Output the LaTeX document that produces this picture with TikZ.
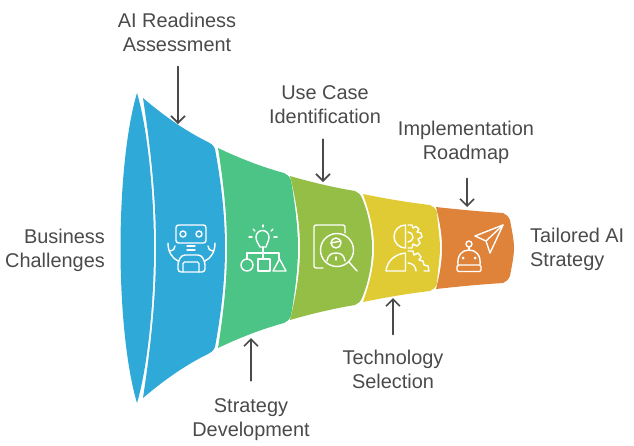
\documentclass[tikz,border=0pt]{standalone}
\usepackage{fontspec}
\setmainfont{Liberation Sans}
\usetikzlibrary{arrows.meta}
\definecolor{segblue}{HTML}{2FA9D8}
\definecolor{seggreen}{HTML}{4CC485}
\definecolor{segolive}{HTML}{95BE47}
\definecolor{segyellow}{HTML}{E1CB35}
\definecolor{segorange}{HTML}{DF833A}
\definecolor{inkgrey}{HTML}{4A4A4A}
\tikzset{
  steplabel/.style={text=inkgrey, inner sep=0pt, align=center, font=\fontsize{19.9}{24}\selectfont},
  flowarrow/.style={draw=inkgrey, line width=1.6pt, ->, shorten <=15pt},
  iconline/.style={draw=white, line width=1.4pt}
}
% colour, left x, left half height, left bulge x, right x, right half height, right bulge x
\newcommand{\funnelseg}[7]{
\fill[#1] (#2,{248-#3})
  .. controls ({#2+(#5-#2)/3},{248-#3+(#3-#6)*0.42}) and ({#2+2*(#5-#2)/3},{248-#3+(#3-#6)*0.76}) .. (#5,{248-#6})
  .. controls ({#5+3},{248-#6+1}) and ({#5+5.5},{248-#6+3.5}) .. ({#5+7},{248-#6+7})
  .. controls ({#7-2.5},{248-#6*0.55}) and (#7,{248-#6*0.25}) .. (#7,248)
  .. controls (#7,{248+#6*0.25}) and ({#7-2.5},{248+#6*0.55}) .. ({#5+7},{248+#6-7})
  .. controls ({#5+5.5},{248+#6-3.5}) and ({#5+3},{248+#6-1}) .. (#5,{248+#6})
  .. controls ({#2+2*(#5-#2)/3},{248+#3-(#3-#6)*0.76}) and ({#2+(#5-#2)/3},{248+#3-(#3-#6)*0.42}) .. (#2,{248+#3})
  .. controls ({#2+0.7*(#4-#2)},{248+0.6*#3}) and (#4,{248+0.3*#3}) .. (#4,248)
  .. controls (#4,{248-0.3*#3}) and ({#2+0.7*(#4-#2)},{248-0.6*#3}) .. cycle;
}
\begin{document}
\begin{tikzpicture}[x=1pt, y=-1pt, line join=round, line cap=round, >={Straight Barb[length=7pt,width=14pt]}]
\useasboundingbox (0,0) rectangle (634,445);
% funnel
\funnelseg{segblue}{143}{150}{156}{208}{106}{225}
\funnelseg{seggreen}{218}{100}{227}{284}{75}{298}
\funnelseg{segolive}{290}{72}{300}{355}{57}{372}
\funnelseg{segyellow}{363}{54}{374}{430}{43}{440}
\funnelseg{segorange}{436}{41}{442}{503}{35}{514}
\fill[segblue] (137,93) .. controls (126,130) and (120.5,190) .. (120.5,248)
  .. controls (120.5,306) and (126,366) .. (137,403)
  .. controls (148,366) and (154,300) .. (154,248)
  .. controls (154,196) and (148,130) .. cycle;
% robot
\draw[iconline, rounded corners=2.5pt] (176,225) rectangle (206,243);
\draw[iconline] (183,234) circle (3);
\draw[iconline] (199,234) circle (3);
\draw[iconline] (187,246)--(195,246);
\draw[iconline] (187,250)--(195,250);
\draw[iconline, rounded corners=3pt] (178,272)--(178,262)--(182,255)--(201,255)--(205,262)--(205,272)--cycle;
\draw[iconline, rounded corners=1.5pt] (183,272)--(183,262)--(199,262)--(199,272);
\draw[iconline] (178,261) .. controls (172,258) and (168,252) .. (168,243);
\draw[iconline] (170,251) .. controls (173,251) and (175,249) .. (175,246);
\draw[iconline] (205,261) .. controls (211,258) and (215,252) .. (215,243);
\draw[iconline] (213,251) .. controls (210,251) and (208,249) .. (208,246);
% bulb and shapes
\draw[iconline] (260,247) .. controls (258,243) and (256,241) .. (256,237) arc (180:360:6.5)
  .. controls (269,241) and (267,243) .. (266,247) -- cycle;
\draw[iconline] (263,247)--(263,253);
\draw[iconline] (247,259)--(247,253)--(279,253)--(279,259);
\draw[iconline] (263,253)--(263,259);
\draw[iconline] (247,265) circle (6);
\draw[iconline] (258,259) rectangle (270,271);
\draw[iconline] (273,271)--(279.5,259)--(286,271)--cycle;
\draw[iconline] (263,225)--(263,227);
\draw[iconline] (253,229)--(255,231);
\draw[iconline] (273,229)--(271,231);
\draw[iconline] (249,237)--(252,237);
\draw[iconline] (274,237)--(277,237);
% search
\draw[iconline, rounded corners=2pt] (345,233)--(345,225)--(314,225)--(314,268)--(323,268);
\draw[iconline] (337,250) circle (16.5);
\draw[iconline] (349,262)--(357,271);
\draw[iconline] (336,243) circle (5);
\draw[iconline] (331,243)--(341,241);
\draw[iconline] (327,261) .. controls (328,255) and (331,253) .. (336,253) .. controls (341,253) and (344,255) .. (345,261);
\draw[iconline] (336,257)--(336,260);
% head and gears
\draw[iconline] (405.5,225) arc (270:90:11.5) -- cycle;
\draw[iconline] (405.5,253) -- (405.5,271) -- (386,271) .. controls (387,261) and (395,254) .. (405.5,253);
\draw[iconline] (408,225)--(412,225)--(413,228)--(416,226.5)--(419,229)--(417,232)--(421,233)--(422,237)--(418,239)--(420,243)--(417,246)--(413,244)--(412,248)--(408,248);
\draw[iconline] (408,232) arc (-90:90:5);
\draw[iconline] (408,251)--(413,251)--(414,255)--(418,253)--(421,257)--(419,260)--(423,261)--(424,265)--(428,266)--(429,271)--(424,271);
\draw[iconline] (408,263) arc (-90:0:8);
% bot and plane
\draw[iconline] (503,225)--(475,236)--(486,241)--(490,253)--cycle;
\draw[iconline] (503,225)--(486,241);
\draw[iconline] (469,244) circle (3);
\draw[iconline] (469,247)--(469,250);
\draw[iconline] (458,265) .. controls (457,255) and (462,250) .. (469,250) .. controls (476,250) and (481,255) .. (480,265);
\draw[iconline, rounded corners=1.5pt] (457,265) rectangle (481,271.5);
\fill[white] (463,258) circle (1.5);
\fill[white] (475,258) circle (1.5);
% labels
\node[steplabel] (assessLabel) at (177,32) {AI Readiness\\Assessment};
\node[steplabel] (usecaseLabel) at (325,105) {Use Case\\Identification};
\node[steplabel] (roadmapLabel) at (466,142) {Implementation\\Roadmap};
\node[steplabel, anchor=east, align=right] (businessLabel) at (105,250) {Business\\Challenges};
\node[steplabel] (strategyLabel) at (251,420) {Strategy\\Development};
\node[steplabel] (techLabel) at (393,369) {Technology\\Selection};
\node[steplabel, anchor=west, align=left] (tailoredLabel) at (530,249) {Tailored AI\\Strategy};
% arrows
\coordinate (assessTip) at (178,124);
\coordinate (usecaseTip) at (323,182);
\coordinate (roadmapTip) at (467,207);
\coordinate (strategyTip) at (251,338);
\coordinate (techTip) at (393,298);
\draw[flowarrow] (assessTip |- assessLabel.south) -- (assessTip);
\draw[flowarrow] (usecaseTip |- usecaseLabel.south) -- (usecaseTip);
\draw[flowarrow] (roadmapTip |- roadmapLabel.south) -- (roadmapTip);
\draw[flowarrow, shorten <=18pt] (strategyTip |- strategyLabel.north) -- (strategyTip);
\draw[flowarrow] (techTip |- techLabel.north) -- (techTip);
\end{tikzpicture}
\end{document}
